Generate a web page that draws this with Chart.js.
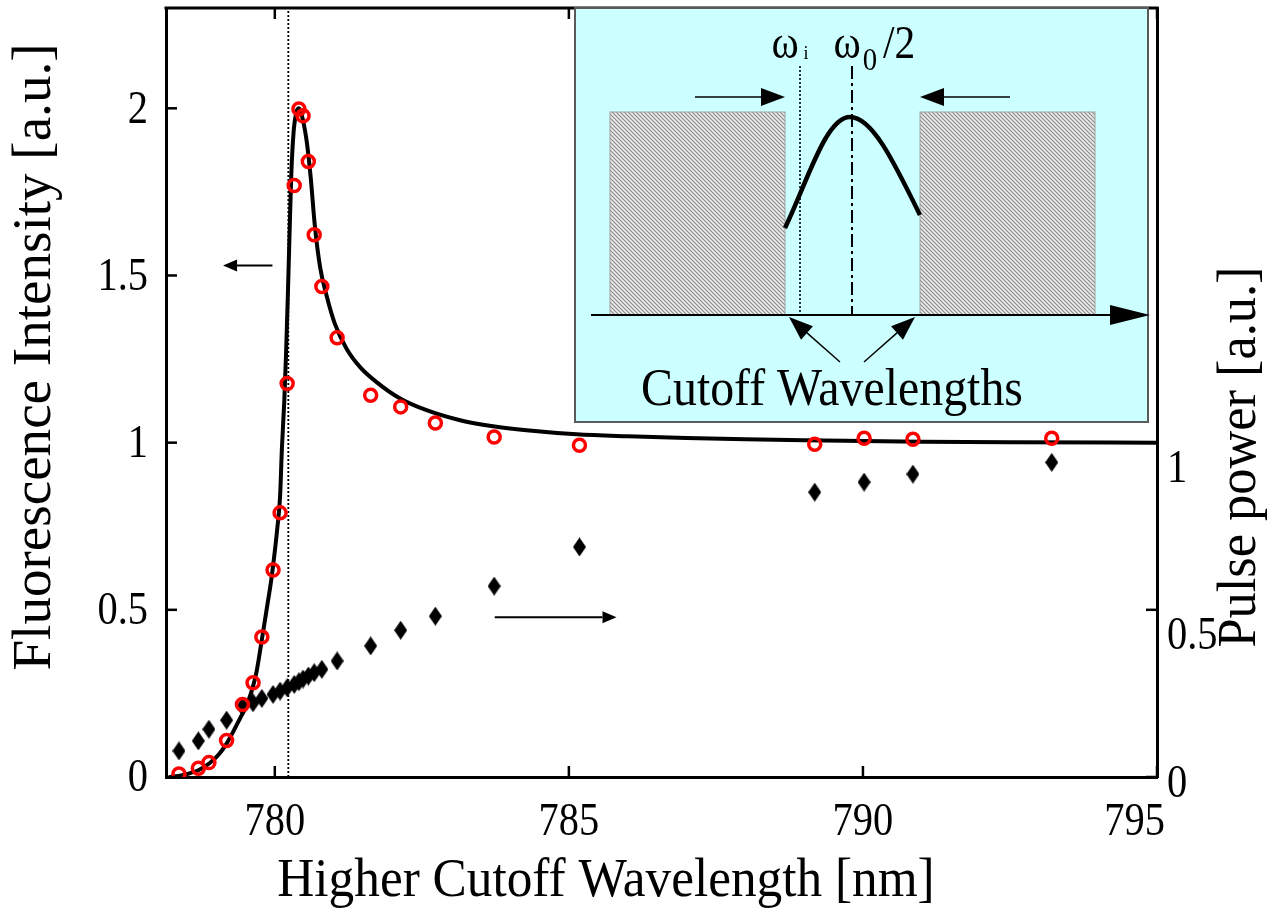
<!DOCTYPE html>
<html>
<head>
<meta charset="utf-8">
<script src="https://cdn.jsdelivr.net/npm/chart.js@4.4.1/dist/chart.umd.min.js"></script>
<style>
  html, body { margin: 0; padding: 0; background: #fff; }
</style>
</head>
<body>
<canvas id="fluo-chart" width="1270" height="908"></canvas>
<script>
// measured points (shared x for both measured series)
const wavelength = [778.37, 778.70, 778.88, 779.18, 779.45, 779.63, 779.78, 779.97, 780.09, 780.21,
                    780.33, 780.41, 780.48, 780.57, 780.67, 780.80, 781.06, 781.63, 782.14, 782.73,
                    783.73, 785.18, 789.18, 790.02, 790.85, 793.21];
const fluorescence = [0.009, 0.026, 0.043, 0.109, 0.217, 0.282, 0.419, 0.619, 0.790, 1.177,
                      1.769, 1.998, 1.978, 1.841, 1.622, 1.467, 1.314, 1.142, 1.107, 1.059,
                      1.017, 0.992, 0.995, 1.013, 1.010, 1.013];
const pulsePower = [0.078, 0.108, 0.143, 0.170, 0.210, 0.222, 0.235, 0.247, 0.257, 0.267,
                    0.277, 0.285, 0.293, 0.302, 0.312, 0.322, 0.347, 0.392, 0.439, 0.481,
                    0.571, 0.688, 0.852, 0.882, 0.906, 0.941];

// theory curve
const theoryWavelength = [778.20, 778.36, 778.55, 778.70, 778.89, 779.05, 779.18, 779.30, 779.40, 779.48,
                          779.55, 779.62, 779.69, 779.77, 779.86, 779.94, 779.99, 780.04, 780.09, 780.12,
                          780.16, 780.19, 780.22, 780.25, 780.28, 780.32, 780.37, 780.41, 780.45, 780.54,
                          780.61, 780.68, 780.77, 780.88, 781.02, 781.22, 781.45, 781.73, 782.13, 782.58,
                          783.15, 783.71, 784.28, 785.13, 786.0, 787.0, 788.0, 789.0, 790.0, 791.0,
                          792.5, 795.0];
const theoryIntensity = [0.000, 0.003, 0.011, 0.020, 0.041, 0.068, 0.100, 0.138, 0.172, 0.200,
                         0.228, 0.265, 0.315, 0.400, 0.500, 0.590, 0.660, 0.740, 0.840, 0.980,
                         1.120, 1.260, 1.430, 1.620, 1.800, 1.930, 1.990, 2.000, 1.985, 1.904,
                         1.794, 1.650, 1.525, 1.440, 1.356, 1.281, 1.226, 1.181, 1.132, 1.097,
                         1.067, 1.049, 1.037, 1.025, 1.019, 1.014, 1.010, 1.007, 1.005, 1.003,
                         1.001, 1.000];

const cutoffMarker = 780.23;
const xTicks = [780, 785, 790, 795];
const leftTicks = [0, 0.5, 1, 1.5, 2];
const rightTicks = [0, 0.5, 1];

const serif = '"Liberation Serif", "Times New Roman", serif';

function makeDiamond(w, h) {
    const c = document.createElement('canvas');
    c.width = w; c.height = h;
    const g = c.getContext('2d');
    g.fillStyle = '#000';
    g.beginPath();
    g.moveTo(w / 2, 0); g.lineTo(w, h / 2); g.lineTo(w / 2, h); g.lineTo(0, h / 2);
    g.closePath();
    g.fill();
    return c;
}

function makeHatch() {
    const c = document.createElement('canvas');
    c.width = 4; c.height = 4;
    const g = c.getContext('2d');
    g.fillStyle = '#ececec';
    g.fillRect(0, 0, 4, 4);
    g.strokeStyle = '#8a8a8a';
    g.lineWidth = 1.1;
    g.beginPath();
    g.moveTo(-1, -1); g.lineTo(5, 5);
    g.moveTo(-1, 3); g.lineTo(1, 5);
    g.moveTo(3, -1); g.lineTo(5, 1);
    g.stroke();
    return c;
}

function line(ctx, x1, y1, x2, y2) {
    ctx.beginPath(); ctx.moveTo(x1, y1); ctx.lineTo(x2, y2); ctx.stroke();
}

function arrow(ctx, x1, y1, x2, y2, len, half, lw) {
    const ang = Math.atan2(y2 - y1, x2 - x1);
    const bx = x2 - len * Math.cos(ang), by = y2 - len * Math.sin(ang);
    ctx.lineWidth = lw;
    line(ctx, x1, y1, bx, by);
    ctx.beginPath();
    ctx.moveTo(x2, y2);
    ctx.lineTo(bx + half * Math.sin(ang), by - half * Math.cos(ang));
    ctx.lineTo(bx - half * Math.sin(ang), by + half * Math.cos(ang));
    ctx.closePath();
    ctx.fill();
}

// serif text, optionally squeezed horizontally like the original figure
function text(ctx, str, x, y, size, align, rot, squeeze) {
    ctx.save();
    ctx.translate(x, y);
    if (rot) ctx.rotate(rot);
    if (squeeze) ctx.scale(squeeze, 1);
    ctx.font = size + 'px ' + serif;
    ctx.textAlign = align || 'center';
    ctx.textBaseline = 'middle';
    ctx.fillText(str, 0, 0);
    ctx.restore();
}

function drawInset(ctx) {
    const hatch = ctx.createPattern(makeHatch(), 'repeat');
    ctx.fillStyle = '#ccffff';
    ctx.fillRect(575, 8, 573, 414);
    ctx.strokeStyle = '#5a5a5a';
    ctx.lineWidth = 2;
    ctx.strokeRect(575, 8, 573, 414);

    // blocked spectral regions
    ctx.fillStyle = hatch;
    ctx.fillRect(610, 112, 175, 203);
    ctx.fillRect(920, 112, 175, 203);
    ctx.strokeStyle = '#a0a0a0';
    ctx.lineWidth = 1;
    ctx.strokeRect(610, 112, 175, 203);
    ctx.strokeRect(920, 112, 175, 203);

    ctx.strokeStyle = '#000';
    ctx.fillStyle = '#000';
    // frequency axis
    arrow(ctx, 591, 315, 1150, 315, 40, 10, 2);

    // omega_i dotted, omega_0/2 dash-dot
    ctx.lineWidth = 1.6;
    ctx.setLineDash([2, 2]);
    line(ctx, 800, 66, 800, 315);
    ctx.lineWidth = 2;
    ctx.setLineDash([13, 4, 3, 4]);
    line(ctx, 852, 66, 852, 315);
    ctx.setLineDash([]);

    // pulse spectrum
    ctx.lineWidth = 4.5;
    ctx.beginPath();
    ctx.moveTo(785, 228);
    ctx.bezierCurveTo(808, 180, 826, 117, 850, 117);
    ctx.bezierCurveTo(872, 117, 893, 160, 920, 215);
    ctx.stroke();

    // moving cutoffs
    arrow(ctx, 695, 97, 785, 97, 24, 9, 1.6);
    arrow(ctx, 1010, 97, 920, 97, 24, 9, 1.6);
    arrow(ctx, 840, 362, 789, 317, 24, 9, 1.4);
    arrow(ctx, 864, 362, 915, 317, 24, 9, 1.4);

    // labels
    ctx.fillStyle = '#000';
    text(ctx, 'ω', 785, 46, 46, 'center', 0, 0.9);
    text(ctx, 'i', 806, 54, 18, 'center');
    text(ctx, 'ω', 847, 46, 46, 'center', 0, 0.9);
    text(ctx, '0', 870, 62, 32, 'center', 0, 0.9);
    text(ctx, '/2', 899, 46, 46, 'center', 0, 0.9);
    text(ctx, 'Cutoff Wavelengths', 832, 391, 52, 'center', 0, 0.92);
}

const decorPlugin = {
    id: 'decor',
    afterDatasetsDraw(chart) {
        const { ctx, chartArea: a, scales } = chart;
        const x = scales.x, y = scales.y, y2 = scales.y2;
        ctx.save();
        ctx.strokeStyle = '#000';
        ctx.fillStyle = '#000';

        // top frame line
        ctx.lineWidth = 3;
        line(ctx, a.left - 1.5, a.top, a.right + 1.5, a.top);

        // inward ticks
        ctx.lineWidth = 2.5;
        xTicks.forEach(v => {
            const px = x.getPixelForValue(v);
            line(ctx, px, a.bottom, px, a.bottom - 11);
            line(ctx, px, a.top, px, a.top + 11);
        });
        leftTicks.forEach(v => {
            const py = y.getPixelForValue(v);
            line(ctx, a.left, py, a.left + 11, py);
        });
        rightTicks.forEach(v => {
            const py = y2.getPixelForValue(v);
            line(ctx, a.right, py, a.right - 11, py);
        });

        // arrows telling which axis each series belongs to
        const ly = y.getPixelForValue(1.53);
        arrow(ctx, x.getPixelForValue(779.96), ly, x.getPixelForValue(779.12), ly, 14, 6, 2);
        const ry = y2.getPixelForValue(0.478);
        arrow(ctx, x.getPixelForValue(783.74), ry, x.getPixelForValue(785.81), ry, 14, 6, 2);

        drawInset(ctx);

        // tick labels
        const tickSize = 47, sq = 0.86;
        ctx.fillStyle = '#000';
        ctx.font = tickSize + 'px ' + serif;
        xTicks.forEach(v => {
            let px = x.getPixelForValue(v);
            const w = ctx.measureText(String(v)).width * sq;
            if (px + w / 2 > a.right + 8) px = a.right + 8 - w / 2;
            text(ctx, String(v), px, a.bottom + 46, tickSize, 'center', 0, sq);
        });
        leftTicks.forEach(v => {
            text(ctx, String(v), a.left - 18, y.getPixelForValue(v) + 2, tickSize, 'right', 0, sq);
        });
        rightTicks.forEach(v => {
            const off = v === 0 ? 8 : 27;
            text(ctx, String(v), a.right + 10, y2.getPixelForValue(v) + off, tickSize, 'left', 0, sq);
        });

        // axis titles
        text(ctx, 'Higher Cutoff Wavelength [nm]', 606, 882, 54, 'center', 0, 0.95);
        text(ctx, 'Fluorescence Intensity [a.u.]', 36, 357, 54, 'center', -Math.PI / 2, 1.02);
        text(ctx, 'Pulse power [a.u.]', 1241, 457, 54, 'center', -Math.PI / 2, 0.97);
        ctx.restore();
    }
};

const fluoPoints = wavelength.map((w, i) => ({ x: w, y: fluorescence[i] }));
const powerPoints = wavelength.map((w, i) => ({ x: w, y: pulsePower[i] }));
const theoryPoints = theoryWavelength.map((w, i) => ({ x: w, y: theoryIntensity[i] }));

const axisOpts = {
    ticks: { display: false },
    grid: { display: false, drawTicks: false },
    border: { display: true, color: '#000', width: 3 }
};

const config = {
    type: 'scatter',
    data: {
        datasets: [
            {
                label: 'Fluorescence (measured)',
                data: fluoPoints,
                yAxisID: 'y',
                pointStyle: 'circle',
                pointRadius: 6,
                borderColor: '#ff0000',
                backgroundColor: 'rgba(0,0,0,0)',
                borderWidth: 3.5,
                order: 0
            },
            {
                label: 'Pulse power',
                data: powerPoints,
                yAxisID: 'y2',
                pointStyle: makeDiamond(13, 19),
                pointRadius: 8,
                backgroundColor: '#000',
                borderColor: '#000',
                order: 1
            },
            {
                label: 'Fluorescence (theory)',
                data: theoryPoints,
                yAxisID: 'y',
                showLine: true,
                borderColor: '#000',
                borderWidth: 4,
                pointRadius: 0,
                cubicInterpolationMode: 'monotone',
                order: 2
            },
            {
                label: 'cutoff',
                data: [{ x: cutoffMarker, y: 0 }, { x: cutoffMarker, y: 2.3 }],
                yAxisID: 'y',
                showLine: true,
                borderColor: '#000',
                borderWidth: 1.8,
                borderDash: [2, 2],
                pointRadius: 0,
                order: 3
            }
        ]
    },
    options: {
        responsive: false,
        animation: false,
        events: [],
        layout: { autoPadding: false, padding: { left: 166, right: 113, top: 8, bottom: 131 } },
        plugins: { legend: { display: false }, tooltip: { enabled: false } },
        scales: {
            x: Object.assign({ type: 'linear', position: 'bottom', min: 778.15, max: 795 }, axisOpts),
            y: Object.assign({ type: 'linear', position: 'left', min: 0, max: 2.3 }, axisOpts),
            y2: Object.assign({ type: 'linear', position: 'right', min: 0, max: 2.3 }, axisOpts)
        }
    },
    plugins: [decorPlugin]
};

const fluoChart = new Chart(document.getElementById('fluo-chart'), config);
</script>
</body>
</html>
